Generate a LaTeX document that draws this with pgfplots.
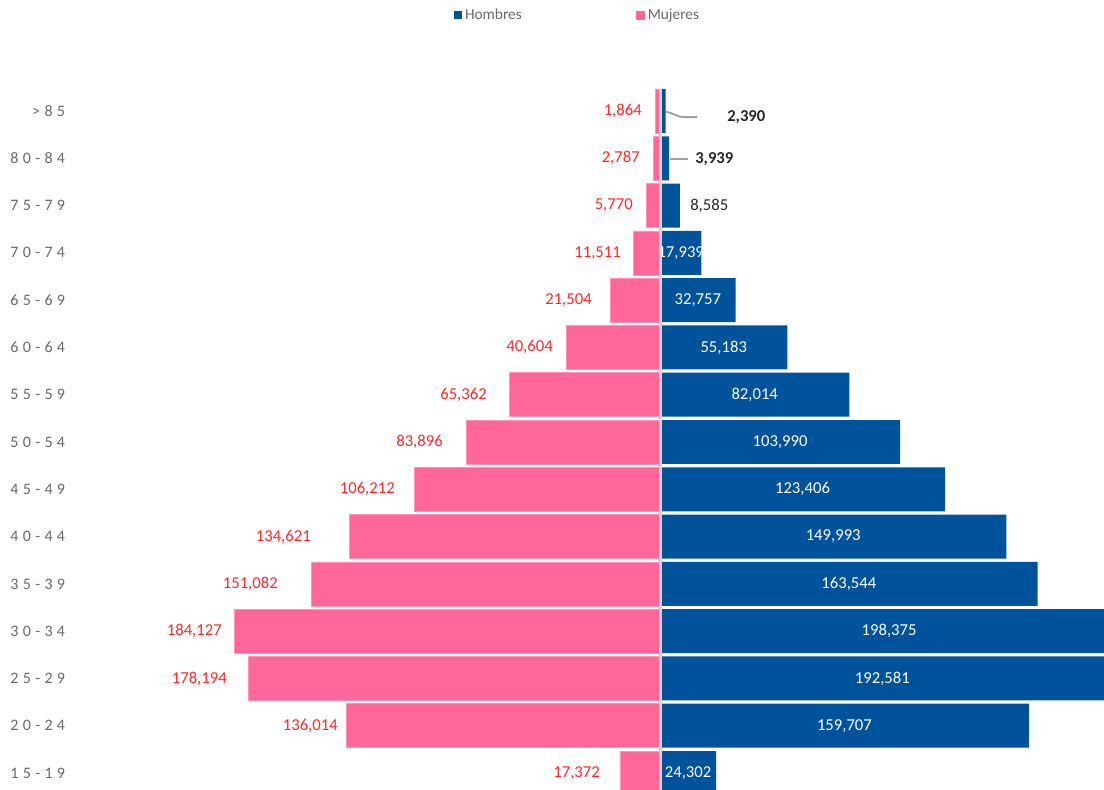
\documentclass[border=0pt]{standalone}
\usepackage{fontspec}
\setmainfont{Carlito}
\newfontfamily\spaced[LetterSpace=27]{Carlito}
\usepackage{pgfplots}
\usepackage{pgfplotstable}
\pgfplotsset{compat=1.18}

\definecolor{hombres}{RGB}{0,82,155}
\definecolor{mujeres}{RGB}{255,102,153}
\definecolor{rojo}{RGB}{255,40,40}
\definecolor{gristxt}{RGB}{105,105,105}
\definecolor{eje}{RGB}{210,210,210}
\definecolor{guia}{RGB}{160,160,160}

% y: 0 = 15-19 ... 14 = >85 ; wlx = right edge of the women's label
\pgfplotstableread{
y  women  men     wlx
0  17372  24302   -25980
1  136014 159707  -139426
2  178194 192581  -187490
3  184127 198375  -189654
4  151082 163544  -165406
5  134621 149993  -151117
6  106212 123406  -114745
7  83896  103990  -93961
8  65362  82014   -74909
9  40604  55183   -46331
10 21504  32757   -29444
11 11511  17939   -16887
12 5770   8585    -11691
13 2787   3939    -8660
14 1864   2390    -7794
}\piramide

% labels set outside the small men's bars
\pgfplotstableread{
y      x      v
12     12990  8585
}\fueranormal
\pgfplotstableread{
y      x      v
12.98  15155  3939
13.87  29011  2390
}\fuerabold

\begin{document}
\begin{tikzpicture}
\begin{axis}[
    width=828pt, height=591.75pt,
    scale only axis,
    xmin=-285780, xmax=192250,
    ymin=-0.338, ymax=16.347,
    axis line style={draw=none},
    xtick=\empty,
    ytick={0,...,14},
    yticklabels={15-19,20-24,25-29,30-34,35-39,40-44,45-49,50-54,55-59,60-64,65-69,70-74,75-79,80-84,>85},
    major tick length=0pt,
    yticklabel style={anchor=east, inner sep=0pt, xshift=49pt,
        font=\spaced\fontsize{12}{14}\selectfont, text=gristxt},
    /pgf/number format/.cd, fixed, precision=0, 1000 sep={,}, assume math mode=true,
    /pgfplots/.cd,
    legend columns=2,
    legend style={at={(0.5236,0.981)}, anchor=center, draw=none, fill=none,
        font=\fontsize{11.5}{13}\selectfont, text=gristxt,
        /tikz/every even column/.append style={column sep=84pt},
        inner sep=0pt, nodes={inner sep=2pt}},
    legend cell align=left,
]
\coordinate (bl) at (rel axis cs:0,0);
\coordinate (tr) at (rel axis cs:1,1);

\addplot[xbar, bar width=0.93, bar shift=0pt, fill=hombres, draw=none,
    legend image code/.code={\fill[hombres] (0pt,-3pt) rectangle (6pt,3pt);}]
    table[x=men, y=y] {\piramide};
\addplot[xbar, bar width=0.93, bar shift=0pt, fill=mujeres, draw=mujeres!70!white, line width=0.5pt,
    legend image code/.code={\fill[mujeres] (0pt,-3pt) rectangle (6pt,3pt);}]
    table[x expr=-\thisrow{women}, y=y] {\piramide};
\legend{Hombres, Mujeres}

% women's labels
\addplot[draw=none, mark=none, forget plot, point meta=explicit,
    nodes near coords,
    every node near coord/.append style={anchor=east, inner sep=0pt, text=rojo,
        font=\fontsize{12.5}{14}\selectfont}]
    table[x=wlx, y=y, meta=women] {\piramide};

% men's labels inside the bars
\addplot[draw=none, mark=none, forget plot, point meta=explicit,
    nodes near coords,
    every node near coord/.append style={anchor=center, inner sep=0pt, text=white,
        font=\fontsize{12.5}{14}\selectfont}]
    table[x expr=\thisrow{men}/2, y=y, meta=men, restrict expr to domain={\thisrow{y}}{0:11}] {\piramide};

% men's labels outside the bars
\addplot[draw=none, mark=none, forget plot, point meta=explicit,
    nodes near coords,
    every node near coord/.append style={anchor=west, inner sep=0pt, text=black!85,
        font=\fontsize{12.5}{14}\selectfont}]
    table[x=x, y=y, meta=v] {\fueranormal};
\addplot[draw=none, mark=none, forget plot, point meta=explicit,
    nodes near coords,
    every node near coord/.append style={anchor=west, inner sep=0pt, text=black!85,
        font=\bfseries\fontsize{12.5}{14}\selectfont}]
    table[x=x, y=y, meta=v] {\fuerabold};

% centre line and leader lines
\draw[eje, line width=2.25pt] (axis cs:0,-0.5) -- (axis cs:0,14.47);
\draw[guia, line width=1.4pt] (axis cs:4330,12.98) -- (axis cs:12124,12.98);
\draw[guia, line width=1.4pt] (axis cs:2598,13.98) .. controls (axis cs:6500,13.95) and (axis cs:7500,13.87) .. (axis cs:10000,13.87) -- (axis cs:16021,13.87);
\end{axis}
\pgfresetboundingbox
\useasboundingbox (bl) rectangle (tr);
\end{tikzpicture}
\end{document}
